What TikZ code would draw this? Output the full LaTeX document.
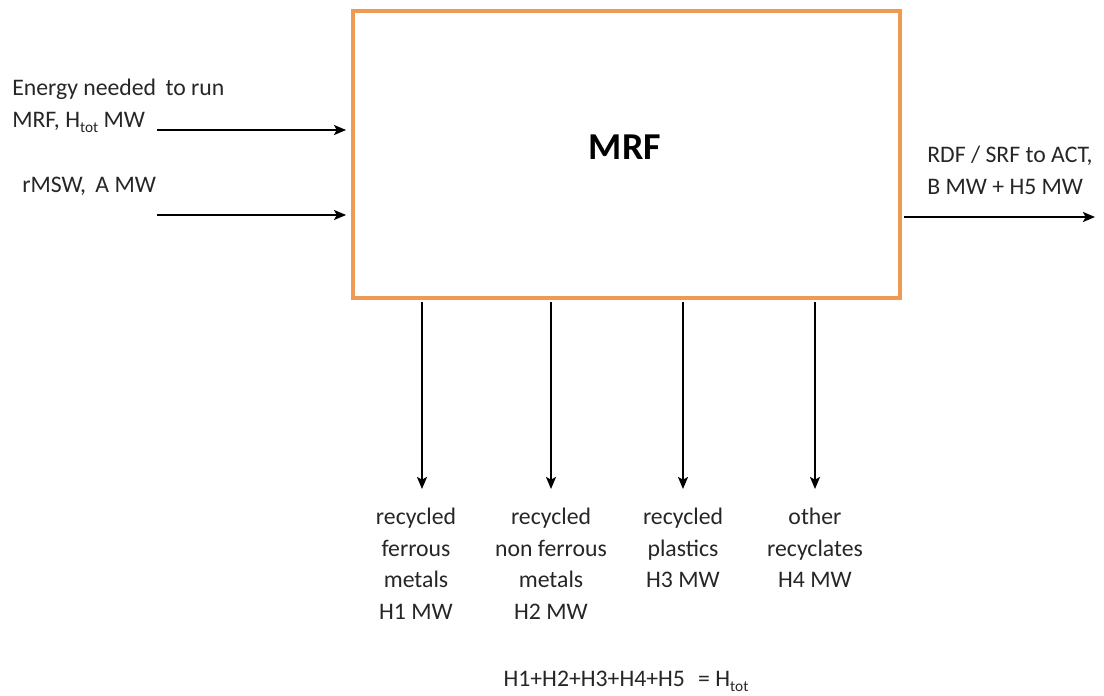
\documentclass[tikz,border=0pt]{standalone}
\usepackage{fontspec}
\setmainfont{Carlito}
\usetikzlibrary{arrows.meta}
\definecolor{boxorange}{HTML}{EE9A55}
\newcommand\subtxt[1]{\raisebox{-0.22em}{\fontsize{11.5}{12}\selectfont #1}}
\tikzset{
  lbl/.style={inner sep=0pt, font=\fontsize{17.8}{23.6}\selectfont, text=black!85},
  arr/.style={line width=1.5pt, -{Stealth[length=9pt,width=7.5pt,inset=2pt]}},
  mrfbox/.style={draw=boxorange, line width=2.4pt, fill=white, minimum width=547*0.75pt, minimum height=287*0.75pt, inner sep=0pt}
}
\begin{document}
\begin{tikzpicture}[x=0.75pt,y=-0.75pt]
\useasboundingbox (0,0) rectangle (1104,696);
\node[mrfbox] (mrf) at (626.5,154.5) {};
\node[inner sep=0pt, font=\fontsize{28.5}{30}\selectfont\bfseries, anchor=base] (title) at (625,159) {MRF};

% left inputs
\node[lbl, anchor=base west, align=left] (energy) at (12,127) {Energy needed\, to run\\MRF, H\subtxt{tot} MW};
\coordinate (e0) at (157,130);
\draw[arr] (e0) -- ([xshift=-4pt]e0 -| mrf.west);
\node[lbl, anchor=base west] (rmsw) at (22,192) {rMSW,\, A MW};
\coordinate (r0) at (157,215);
\draw[arr] (r0) -- ([xshift=-4pt]r0 -| mrf.west);

% right output
\node[lbl, anchor=base west, align=left] (rdf) at (927,194) {RDF / SRF to ACT,\\B MW + H5 MW};
\coordinate (o1) at (1095,217);
\draw[arr] ([xshift=2pt]o1 -| mrf.east) -- (o1);

% bottom outputs
\node[lbl, anchor=north, align=center] (f1) at (416,508) {recycled\\ferrous\\metals\\H1 MW};
\node[lbl, anchor=north, align=center] (f2) at (551,508) {recycled\\non ferrous\\metals\\H2 MW};
\node[lbl, anchor=north, align=center] (f3) at (683,508) {recycled\\plastics\\H3 MW};
\node[lbl, anchor=north, align=center] (f4) at (815,508) {other\\recyclates\\H4 MW};
\coordinate (b1) at (422,489);
\coordinate (b2) at (551,489);
\coordinate (b3) at (683,489);
\coordinate (b4) at (815,489);
\foreach \b in {b1,b2,b3,b4}{
  \draw[arr] ([yshift=-1.5pt]\b |- mrf.south) -- (\b);
}

\node[lbl, anchor=base] (eq) at (626,686) {H1+H2+H3+H4+H5\,\, = H\subtxt{tot}};
\end{tikzpicture}
\end{document}
